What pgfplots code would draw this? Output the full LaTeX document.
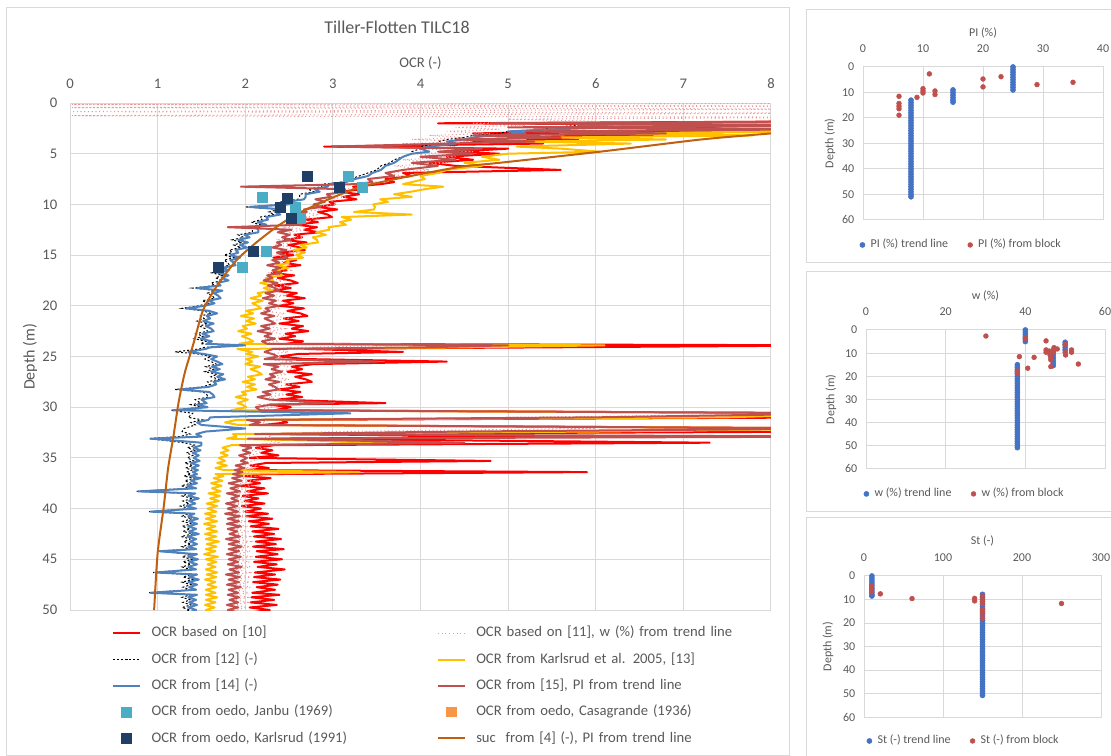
\documentclass[border=0pt]{standalone}
\usepackage{fontspec}
\setmainfont{Carlito}
\usepackage{pgfplots}
\usepackage{pgfplotstable}
\pgfplotsset{compat=1.18}

\definecolor{ocrred}{HTML}{FF0000}
\definecolor{ocrpink}{HTML}{E89A9A}
\definecolor{ocryel}{HTML}{FFC000}
\definecolor{ocrblue}{HTML}{4F81BD}
\definecolor{ocrbr}{HTML}{C0504D}
\definecolor{janbu}{HTML}{4BACC6}
\definecolor{casa}{HTML}{F79646}
\definecolor{karl}{HTML}{1F3F66}
\definecolor{sucbrown}{HTML}{C0600F}
\definecolor{gridgray}{HTML}{D9D9D9}
\definecolor{txtgray}{HTML}{595959}
\definecolor{dotblue}{HTML}{4472C4}
\definecolor{dotred}{HTML}{C0504D}

% OCR profiles: depth (m) and OCR (-) of each method
\pgfplotstableread{
d red pink black yel blue br
0.05 nan 9 nan nan nan nan
0.15 nan 0.02 nan nan nan nan
0.3 nan 9 nan nan nan nan
0.45 nan 0.02 nan nan nan nan
0.6 nan 9 nan nan nan nan
0.85 nan 0.02 nan nan nan nan
1.0 nan 9 nan nan nan nan
1.25 nan 0.02 nan nan nan nan
1.3 nan 1.94 nan nan nan nan
1.4 nan 9 nan nan nan nan
1.6 nan 5.0 nan nan nan nan
1.8 9 6.0 nan nan nan 9
2.0 4.2 4.6 6.5 9 6.8 4.8
2.2 9 5.2 5.8 6.0 5.8 9
2.4 5.3 4.4 5.5 9 6.2 5.0
2.6 9 4.9 5.4 7.0 5.5 8.5
2.8 6.0 4.3 5.0 9 5.0 5.2
3.0 4.6 4.8 4.9 6.2 5.2 6.8
3.2 6.8 4.1 4.6 7.8 4.8 4.6
3.4 5.0 4.5 4.5 5.6 4.6 5.6
3.6 5.8 3.9 4.3 6.8 4.5 4.4
3.8 4.6 4.6 4.2 5.2 4.3 5.3
4.0 5.4 3.8 4.2 6.4 4.4 4.3
4.3 2.9 4.4 4.0 5.1 4.1 3.0
4.5 5.0 4.0 4.0 5.6 4.0 4.7
4.8 4.4 4.6 3.9 6.05 4.1 4.2
5.0 4.9 3.9 3.9 5.0 3.9 4.6
5.3 4.3 4.4 3.8 4.7 3.8 4.0
5.6 4.6 3.8 3.7 4.9 3.75 4.4
5.9 4.1 4.3 3.65 4.5 3.7 3.9
6.2 4.4 3.7 3.55 4.7 3.6 4.2
6.6 5.6 4.1 3.5 4.3 3.55 3.8
6.9 3.8 3.6 3.4 4.2 3.45 3.6
7.2 3.9 3.8 3.3 4.0 3.4 3.7
7.5 3.6 3.4 3.2 4.05 3.25 3.4
7.8 3.7 3.5 3.1 3.9 3.15 3.45
8.00 3.55 3.27 2.89 3.80 2.96 3.27
8.25 3.23 3.40 2.87 4.26 2.94 1.95
8.50 3.35 3.12 2.72 4.05 2.79 3.14
8.75 3.08 3.17 2.78 3.89 2.85 3.14
9.00 3.30 2.96 2.62 3.70 2.69 2.93
9.25 3.12 3.16 2.62 3.90 2.69 2.98
9.50 3.27 2.94 2.60 3.54 2.67 2.80
9.75 2.96 3.01 2.41 3.63 2.48 2.91
10.00 3.02 3.04 2.43 3.46 2.50 2.78
10.25 2.82 2.75 2.00 3.48 2.05 2.86
10.50 3.05 2.87 2.38 3.47 2.45 2.67
10.75 2.83 2.64 2.27 3.24 2.34 2.70
11.00 2.94 2.84 2.33 3.90 2.40 2.56
11.25 2.99 2.69 2.17 3.10 2.24 2.69
11.50 2.69 2.84 2.19 3.21 2.26 2.56
11.75 2.83 2.57 2.07 3.08 2.14 2.61
12.00 2.58 2.64 2.17 3.15 2.24 2.64
12.25 2.82 2.46 2.05 2.95 2.12 1.80
12.50 2.67 2.69 2.08 2.96 2.15 2.53
12.75 2.84 2.49 2.08 2.81 2.15 2.37
13.00 2.56 2.59 1.92 2.92 1.99 2.51
13.25 2.65 2.66 1.98 2.77 2.05 2.42
13.50 2.45 2.39 1.85 2.82 1.92 2.52
13.75 2.70 2.54 1.96 2.83 2.03 2.36
14.00 2.49 2.33 1.87 2.63 1.94 2.41
14.25 2.62 2.56 1.95 2.70 2.02 2.31
14.50 2.68 2.43 1.82 2.55 1.89 2.47
14.75 2.40 2.61 1.85 2.68 1.92 2.36
15.00 2.55 2.37 1.76 2.58 1.83 2.44
15.25 2.32 2.46 1.87 2.66 1.94 2.48
15.50 2.58 2.28 1.76 2.47 1.83 2.31
15.75 2.44 2.52 1.80 2.50 1.87 2.39
16.00 2.63 2.34 1.82 2.36 1.89 2.25
16.25 2.37 2.45 1.67 2.49 1.74 2.40
16.50 2.47 2.52 1.74 2.35 1.81 2.31
16.75 2.30 2.26 1.62 2.40 1.69 2.41
17.00 2.56 2.41 1.74 2.42 1.81 2.25
17.25 2.37 2.21 1.66 2.24 1.73 2.31
17.50 2.52 2.44 1.74 2.32 1.81 2.21
17.75 2.60 2.32 1.61 2.17 1.68 2.37
18.00 2.34 2.49 1.65 2.31 1.72 2.26
18.25 2.52 2.26 1.40 2.21 1.45 2.34
18.50 2.31 2.36 1.67 2.31 1.74 2.39
18.75 2.59 2.19 1.57 2.14 1.64 2.23
19.00 2.47 2.44 1.62 2.18 1.69 2.33
19.25 2.68 2.28 1.65 2.06 1.72 2.20
19.50 2.43 2.40 1.51 2.20 1.58 2.35
19.75 2.55 2.49 1.58 2.08 1.65 2.27
20.00 2.39 2.24 1.47 2.14 1.54 2.38
20.25 2.67 2.40 1.28 2.18 1.33 2.23
20.50 2.48 2.20 1.52 2.01 1.59 2.28
20.75 2.63 2.45 1.61 2.09 1.68 2.18
21.00 2.71 2.33 1.49 1.95 1.56 2.33
21.25 2.44 2.51 1.53 2.10 1.60 2.22
21.50 2.61 2.27 1.45 2.01 1.52 2.29
21.75 2.39 2.37 1.57 2.12 1.64 2.34
22.00 2.66 2.21 1.48 1.97 1.55 2.18
22.25 2.53 2.45 1.54 2.02 1.61 2.28
22.50 2.72 2.28 1.57 1.92 1.64 2.14
22.75 2.46 2.39 1.44 2.07 1.51 2.30
23.00 2.57 2.47 1.52 1.96 1.59 2.22
23.25 2.39 2.22 1.42 2.04 1.49 2.34
23.50 2.66 2.38 1.55 2.09 1.62 2.19
23.75 2.47 2.18 1.49 1.93 1.56 2.25
23.90 9.00 4.00 1.93 6.10 2.00 5.00
24.10 5.40 2.50 1.53 4.50 1.60 4.00
24.25 2.68 2.31 1.48 1.91 1.55 2.32
24.55 3.80 2.49 1.20 2.08 1.35 2.22
24.75 2.60 2.28 1.46 2.01 1.53 2.31
25.00 2.39 2.40 1.61 2.15 1.68 2.37
25.25 2.68 2.25 1.54 2.01 1.61 2.22
25.50 4.30 2.51 1.61 2.08 1.68 3.50
25.75 2.78 2.35 1.67 2.00 1.74 2.21
26.00 2.53 2.48 1.55 2.17 1.62 2.38
26.25 2.65 2.56 1.64 2.06 1.71 2.30
26.50 2.48 2.31 1.54 2.14 1.61 2.42
26.75 2.76 2.47 1.68 2.19 1.75 2.28
27.00 2.57 2.27 1.61 2.03 1.68 2.34
27.25 2.69 2.50 1.70 2.11 1.77 2.23
27.50 2.76 2.37 1.57 1.97 1.64 2.39
27.75 2.47 2.54 1.60 2.11 1.67 2.27
28.00 2.62 2.30 1.51 2.02 1.58 2.34
28.25 2.38 2.39 1.20 2.13 1.25 2.38
28.50 2.63 2.22 1.52 1.96 1.59 2.20
28.75 2.47 2.45 1.56 2.01 1.63 2.29
29.00 2.65 2.27 1.58 1.89 1.65 2.14
29.25 2.37 2.37 1.43 2.03 1.50 2.28
29.60 3.60 2.43 1.49 1.91 1.56 3.00
29.75 2.27 2.17 1.38 1.97 1.45 2.29
30.00 2.52 2.32 1.50 2.01 1.57 2.12
30.30 2.33 2.12 1.15 1.84 1.18 2.17
30.60 9.00 9.00 1.40 9.00 3.20 9.00
31.00 9.00 5.00 1.35 7.50 1.60 6.00
31.25 2.41 2.30 1.51 1.90 1.58 2.02
31.50 2.48 2.17 1.38 1.77 1.45 2.17
31.75 2.20 2.34 1.43 1.92 1.50 2.05
32.10 9.00 6.00 1.30 9.00 2.00 9.00
32.40 9.00 3.00 1.28 6.00 1.55 4.50
32.65 2.27 2.24 1.37 1.86 1.44 2.11
32.90 5.70 2.30 1.25 1.90 1.50 9.00
33.10 2.30 2.12 0.90 1.79 0.92 2.03
33.50 7.30 2.40 1.30 3.80 1.50 4.50
33.75 2.33 2.04 1.43 1.84 1.50 1.94
34.00 2.12 2.22 1.34 1.74 1.41 2.07
34.25 2.31 2.07 1.42 1.81 1.49 1.97
34.50 2.18 2.19 1.33 1.72 1.40 2.06
34.75 2.38 2.03 1.40 1.80 1.47 1.93
35.00 2.05 2.16 1.34 1.70 1.41 2.02
35.30 4.80 2.08 1.41 1.77 1.48 1.95
35.50 2.24 1.97 1.31 1.68 1.38 2.03
35.75 2.06 2.14 1.40 1.79 1.47 1.89
36.00 2.27 2.00 1.32 1.66 1.39 1.99
36.20 2.02 2.13 1.39 1.76 1.46 1.88
36.40 5.90 2.05 1.33 3.30 1.40 1.97
36.60 2.21 1.95 1.38 1.66 1.45 1.86
36.80 2.00 2.11 1.30 1.75 1.37 1.97
37.00 2.29 1.96 1.42 1.64 1.49 1.85
37.25 2.03 2.10 1.31 1.74 1.38 1.96
37.50 2.17 1.94 1.38 1.61 1.45 1.81
37.75 1.95 2.08 1.27 1.73 1.34 1.95
38.00 2.22 1.92 1.37 1.62 1.44 1.83
38.30 2.02 2.06 0.75 1.72 0.78 1.94
38.50 2.26 1.90 1.36 1.58 1.43 1.79
38.75 1.97 2.05 1.28 1.71 1.35 1.93
39.00 2.15 1.89 1.40 1.60 1.47 1.84
39.25 1.99 2.04 1.29 1.70 1.36 1.92
39.50 2.22 1.88 1.36 1.56 1.43 1.78
39.75 1.96 2.03 1.26 1.68 1.33 1.91
40.00 2.18 1.87 1.37 1.57 1.44 1.80
40.30 2.00 2.02 0.90 1.67 0.92 1.92
40.50 2.26 1.87 1.35 1.54 1.42 1.77
40.75 2.01 2.01 1.28 1.66 1.35 1.94
41.00 2.31 1.86 1.39 1.55 1.46 1.80
41.25 2.04 2.02 1.29 1.68 1.36 1.93
41.50 2.27 1.86 1.38 1.53 1.45 1.79
41.75 2.06 2.03 1.28 1.66 1.35 1.95
42.00 2.38 1.87 1.37 1.56 1.44 1.80
42.25 2.08 2.04 1.29 1.68 1.36 1.91
42.50 2.33 1.88 1.40 1.54 1.47 1.82
42.75 2.10 2.05 1.27 1.67 1.34 1.94
43.00 2.41 1.89 1.37 1.55 1.44 1.78
43.25 2.12 2.06 1.30 1.70 1.37 1.93
43.50 2.35 1.90 1.38 1.56 1.45 1.81
43.75 2.09 2.05 1.28 1.67 1.35 1.96
44.00 2.44 1.89 1.37 1.55 1.44 1.81
44.20 2.13 2.06 1.00 1.66 1.02 1.93
44.50 2.37 1.90 1.38 1.53 1.45 1.79
44.75 2.12 2.06 1.28 1.69 1.35 1.95
45.00 2.42 1.89 1.39 1.55 1.46 1.81
45.25 2.10 2.05 1.29 1.67 1.36 1.92
45.50 2.36 1.90 1.38 1.57 1.45 1.80
45.75 2.14 2.06 1.28 1.66 1.35 1.96
46.00 2.45 1.89 1.37 1.55 1.44 1.82
46.30 2.11 2.05 0.95 1.68 0.98 1.93
46.50 2.34 1.90 1.38 1.56 1.45 1.78
46.75 2.10 2.06 1.29 1.67 1.36 1.94
47.00 2.40 1.89 1.40 1.54 1.47 1.81
47.25 2.09 2.05 1.28 1.66 1.35 1.93
47.50 2.37 1.90 1.38 1.57 1.45 1.79
47.75 2.13 2.06 1.29 1.67 1.36 1.95
48.00 2.34 1.89 1.37 1.55 1.44 1.81
48.30 2.08 2.04 0.90 1.66 0.92 1.92
48.50 2.39 1.88 1.38 1.55 1.45 1.80
48.75 2.07 2.03 1.28 1.68 1.35 1.93
49.00 2.33 1.88 1.37 1.55 1.44 1.82
49.25 2.06 2.03 1.29 1.66 1.36 1.92
49.50 2.36 1.87 1.38 1.54 1.45 1.79
49.75 2.05 2.02 1.28 1.65 1.35 1.92
50.00 2.28 1.87 1.37 1.55 1.44 1.80
50.25 2.05 2.02 1.29 1.66 1.36 1.92
}\ocrtable

\pgfplotsset{
  depthaxis/.style={
    scale only axis, y dir=reverse, anchor=north west,
    axis line style={draw=gridgray, line width=0.75bp},
    xmajorgrids, ymajorgrids,
    major grid style={draw=gridgray, line width=0.75bp},
    tick style={draw=none}, major tick length=0pt,
    xticklabel pos=upper,
    /pgf/number format/assume math mode=true,
    tick label style={text=txtgray},
    legend cell align=left,
    unbounded coords=jump,
  },
  panel/.style={
    depthaxis,
    ymin=0, ymax=60, ytick={0,10,...,60},
    tick label style={font=\fontsize{9bp}{11bp}\selectfont},
    xticklabel style={yshift=7.6bp},
    yticklabel style={xshift=-3bp},
    legend columns=2,
    legend style={draw=none, fill=none, inner sep=0pt,
      font=\fontsize{9bp}{11bp}\selectfont, text=txtgray,
      nodes={inner sep=2bp, text height=6.5bp, text depth=2bp},
      /tikz/every odd column/.append style={column sep=2.2bp},
      /tikz/every even column/.append style={column sep=12.7bp}},
    legend image code/.code={\draw[##1] plot coordinates {(0bp,0bp)};},
  },
  trend/.style={only marks, mark=*, mark size=1.9bp, color=dotblue},
  block/.style={only marks, mark=*, mark size=1.8bp, color=dotred},
}

\newcommand{\lbl}{\fontsize{11bp}{13bp}\selectfont}
\newcommand{\plbl}{\fontsize{9bp}{11bp}\selectfont}

\begin{document}
\begin{tikzpicture}
\useasboundingbox (0,0) rectangle (833.25bp,567bp);
\clip (0,0) rectangle (833.25bp,567bp);

% chart frames
\draw[gridgray, line width=0.75bp] (4.5bp,0.75bp) rectangle (591.75bp,561bp);
\draw[gridgray, line width=0.75bp] (604.5bp,369.75bp) rectangle (840bp,559.5bp);
\draw[gridgray, line width=0.75bp] (604.5bp,183bp) rectangle (840bp,363bp);
\draw[gridgray, line width=0.75bp] (604.5bp,-10bp) rectangle (840bp,178.5bp);

% ---------------- OCR profile ----------------
\begin{axis}[depthaxis,
  at={(52.5bp,489.75bp)},
  width=525.75bp, height=380.25bp,
  xmin=0, xmax=8, ymin=0, ymax=50,
  xtick={0,1,...,8}, ytick={0,5,...,50},
  tick label style={font=\lbl},
  xticklabel style={yshift=7bp},
  yticklabel style={xshift=-6bp},
  legend columns=2,
  legend style={at={(0.0599,-0.0263)}, anchor=north west,
    draw=none, fill=none, inner sep=0pt, font=\lbl, text=txtgray,
    row sep=5.2bp,
    nodes={text width=212bp, inner sep=2bp, text height=8bp, text depth=2.5bp},
    /tikz/every odd column/.append style={column sep=6bp}},
  legend image code/.code={\draw[mark repeat=2,mark phase=2,#1]
    plot coordinates {(0bp,0bp) (10bp,0bp) (20bp,0bp)};},
]
\addplot[ocrred, line width=1.5bp, line join=round] table[x=red, y=d] {\ocrtable};
\addlegendentry{OCR based on [10]}
\addplot[ocrpink, line width=0.8bp, dotted] table[x=pink, y=d] {\ocrtable};
\addlegendentry{OCR based on [11], w (\%) from trend line}
\addplot[black, line width=0.75bp, dash pattern=on 1.5bp off 1.5bp] table[x=black, y=d] {\ocrtable};
\addlegendentry{OCR from [12] (-)}
\addplot[ocryel, line width=1.5bp, line join=round] table[x=yel, y=d] {\ocrtable};
\addlegendentry{OCR from Karlsrud et al. 2005, [13]}
\addplot[ocrblue, line width=1.5bp, line join=round] table[x=blue, y=d] {\ocrtable};
\addlegendentry{OCR from [14] (-)}
\addplot[ocrbr, line width=1.5bp, line join=round] table[x=br, y=d] {\ocrtable};
\addlegendentry{OCR from [15], PI from trend line}
\addplot[only marks, mark=square*, mark size=3.75bp, color=janbu] coordinates {
  (3.17,7.26) (3.33,8.3) (2.19,9.3) (2.57,10.3) (2.63,11.4) (2.24,14.6) (1.97,16.2)};
\addlegendentry{OCR from oedo, Janbu (1969)}
\addlegendimage{only marks, mark=square*, mark size=3.4bp, color=casa}
\addlegendentry{OCR from oedo, Casagrande (1936)}
\addplot[only marks, mark=square*, mark size=3.75bp, color=karl] coordinates {
  (2.71,7.26) (3.07,8.3) (2.48,9.4) (2.40,10.3) (2.53,11.4) (2.09,14.6) (1.69,16.2)};
\addlegendentry{OCR from oedo, Karlsrud (1991)}
\addplot[sucbrown, line width=1.5bp, smooth, tension=0.4] coordinates {
  (8.6,2.6) (8.0,3.0) (7.2,3.6) (6.05,4.8) (4.9,5.9) (4.45,6.3) (3.77,7.4)
  (3.31,8.3) (2.95,9.5) (2.6,10.9) (2.36,12.2) (2.12,13.8) (1.9,15.5)
  (1.68,18.0) (1.52,20.4) (1.41,23.7) (1.31,26.6) (1.24,29.5) (1.18,32.9)
  (1.12,36.0) (1.07,39.8) (1.0,44.4) (0.96,50.0)};
\addlegendentry{suc\ \ from [4] (-), PI from trend line}
\end{axis}

\node[text=txtgray, font=\fontsize{13.5bp}{16bp}\selectfont] at (297.75bp,546.75bp) {Tiller-Flotten TILC18};
\node[text=txtgray, font=\lbl] at (315.4bp,519.75bp) {OCR (-)};
\node[text=txtgray, font=\fontsize{12bp}{14bp}\selectfont, rotate=90] at (22.5bp,299.25bp) {Depth (m)};

% ---------------- PI ----------------
\begin{axis}[panel,
  at={(647.25bp,516.75bp)}, width=180bp, height=114.75bp,
  xmin=0, xmax=40, xtick={0,10,...,40},
  legend style={at={(-0.014,-0.107)}, anchor=north west}]
\addplot[trend] coordinates {
  (25,0) (25,1) (25,2) (25,3) (25,4) (25,5) (25,6) (25,7) (25,8) (25,9)
  (15,9) (15,10) (15,11) (15,12) (15,13) (15,13.8)
  (8,13) (8,14) (8,15) (8,16) (8,17) (8,18) (8,19) (8,20) (8,21) (8,22)
  (8,23) (8,24) (8,25) (8,26) (8,27) (8,28) (8,29) (8,30) (8,31) (8,32)
  (8,33) (8,34) (8,35) (8,36) (8,37) (8,38) (8,39) (8,40) (8,41) (8,42)
  (8,43) (8,44) (8,45) (8,46) (8,47) (8,48) (8,49) (8,50) (8,50.9)};
\addplot[block] coordinates {
  (11.06,2.7) (23,3.8) (20,4.7) (35,6.0) (29,6.9) (20,7.8) (10,8.5) (10,9.4)
  (10,10.2) (12,9.4) (12,10.8) (9,11.9) (6,11.5) (6,14.3) (6,15.4) (6,16.4) (6,18.9)};
\legend{PI (\%) trend line, PI (\%) from block}
\end{axis}
\node[text=txtgray, font=\plbl] at (737.25bp,542.25bp) {PI (\%)};
\node[text=txtgray, font=\plbl, rotate=90] at (622.5bp,459.4bp) {Depth (m)};

% ---------------- w ----------------
\begin{axis}[panel,
  at={(649.5bp,319.5bp)}, width=179.25bp, height=104.25bp,
  xmin=0, xmax=60, xtick={0,20,40,60},
  legend style={at={(-0.01,-0.1175)}, anchor=north west}]
\addplot[trend] coordinates {
  (40,0) (40,1) (40,2) (40,3) (40,4) (40,5)
  (50,5.3) (50,6.4) (50,7.5) (50,8.6)
  (47,9.6) (47,10.8) (47,12) (47,13.2) (47,14.4) (47,15.4)
  (38,15) (38,16) (38,17) (38,18) (38,19) (38,20) (38,21) (38,22) (38,23)
  (38,24) (38,25) (38,26) (38,27) (38,28) (38,29) (38,30) (38,31) (38,32)
  (38,33) (38,34) (38,35) (38,36) (38,37) (38,38) (38,39) (38,40) (38,41)
  (38,42) (38,43) (38,44) (38,45) (38,46) (38,47) (38,48) (38,49) (38,50) (38,50.8)};
\addplot[block] coordinates {
  (30.1,2.6) (40,3.6) (45.2,4.7) (45.2,8.6) (45.2,9.6) (46.2,10.8) (46.4,11.9)
  (46.4,12.9) (47,9.6) (47.2,7.6) (48,8.2) (50,9.6) (50.1,10.8) (50,6.2)
  (51.6,8.6) (51.6,9.6) (53.3,14.7) (46.4,15.8) (42.2,11.8) (38.5,11.5)
  (40.6,16.5) (38,17.7) (38,18.7) (47,8.6) (46,9.1)};
\legend{w (\%) trend line, w (\%) from block}
\end{axis}
\node[text=txtgray, font=\plbl] at (739.1bp,345bp) {w (\%)};
\node[text=txtgray, font=\plbl, rotate=90] at (623.25bp,267.4bp) {Depth (m)};

% ---------------- St ----------------
\begin{axis}[panel,
  at={(648bp,135bp)}, width=177.75bp, height=105.75bp,
  xmin=0, xmax=300, xtick={0,100,200,300},
  legend style={at={(0.011,-0.109)}, anchor=north west}]
\addplot[trend] coordinates {
  (10,0) (10,1) (10,2) (10,3) (10,4) (10,5) (10,6) (10,7) (10,8) (10,8.5)
  (150,7.8) (150,9) (150,10) (150,11) (150,12) (150,13) (150,14) (150,15)
  (150,16) (150,17) (150,18) (150,19) (150,20) (150,21) (150,22) (150,23)
  (150,24) (150,25) (150,26) (150,27) (150,28) (150,29) (150,30) (150,31)
  (150,32) (150,33) (150,34) (150,35) (150,36) (150,37) (150,38) (150,39)
  (150,40) (150,41) (150,42) (150,43) (150,44) (150,45) (150,46) (150,47)
  (150,48) (150,49) (150,50) (150,50.8)};
\addplot[block] coordinates {
  (9.7,4.0) (9.7,5.4) (9.7,6.8) (20.7,7.6) (60.8,9.6) (140,9.5) (140,10.6)
  (150,8.6) (150,10.3) (150,11.7) (150,14.3) (150,15.7) (150,18) (250,11.7)};
\legend{St (-) trend line, St (-) from block}
\end{axis}
\node[text=txtgray, font=\plbl] at (736.9bp,161.25bp) {St (-)};
\node[text=txtgray, font=\plbl, rotate=90] at (621bp,82.1bp) {Depth (m)};
\end{tikzpicture}
\end{document}
